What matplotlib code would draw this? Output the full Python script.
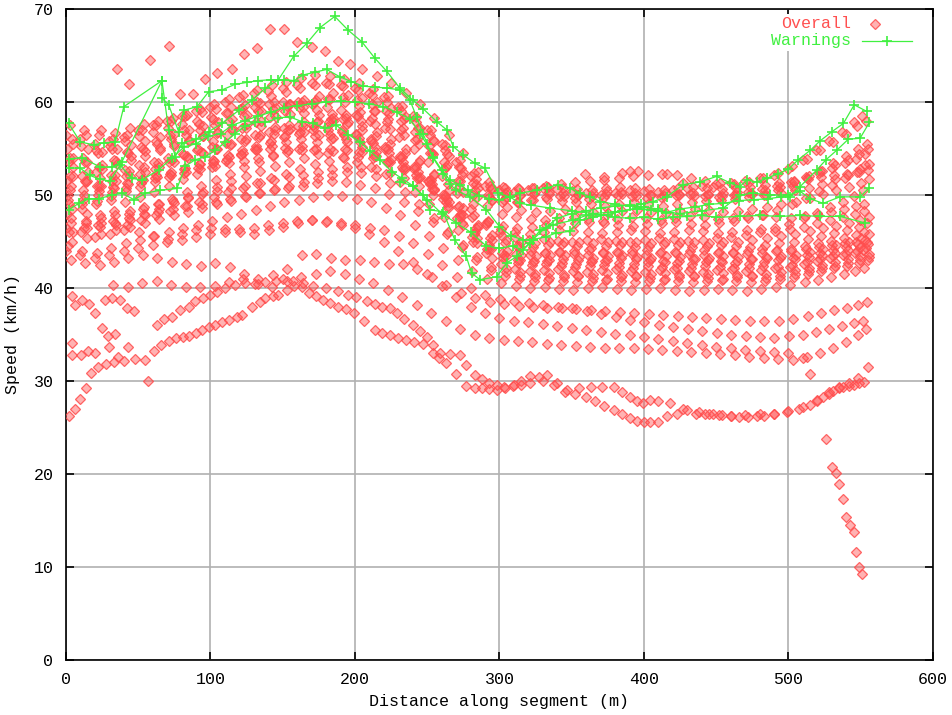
import matplotlib
matplotlib.use("Agg")
import matplotlib.pyplot as plt
from matplotlib.patches import Rectangle

plt.rcParams['font.family'] = ['Liberation Mono', 'DejaVu Sans Mono']

# ---------------------------------------------------------------- data
# Sampling positions (m) shared by the regular trips
GRID_X = [0, 10, 20, 30, 40, 50, 60, 70, 80, 90, 100, 110, 120, 130, 140, 150,
          160, 170, 180, 190, 200, 210, 220, 230, 240, 250, 260, 270, 280, 290,
          300, 310, 320, 330, 340, 350, 360, 370, 380, 390, 400, 410, 420, 430,
          440, 450, 460, 470, 480, 490, 500, 510, 519, 528, 537, 545, 551]

# Speeds (km/h) of each trip along GRID_X
A1 = [56.5, 56, 55.5, 55.8, 56.2, 57, 57.5, 58, 58.5, 59, 59.5, 60, 60.5, 61, 61.2, 61.5, 61.8, 62, 62, 61.8, 61.5, 61, 60.5, 59.5, 58.5, 57, 55.5, 53.5, 52, 51, 50.5, 50.3, 50.5, 50.8, 50.6, 50.4, 50.2, 50, 50.2, 50.5, 50.4, 50.3, 50.5, 50.8, 51, 51.2, 51.3, 51.5, 51.8, 52.2, 52.8, 53.8, 54.8, 55.8, 56.8, 57.8, 58.5]
A2 = [54, 53.5, 53, 53.8, 54.5, 55, 55.5, 56, 56.5, 57, 57.5, 58, 58.5, 59, 59.3, 59.6, 60, 60.2, 60.3, 60, 59.6, 59, 58.2, 57.2, 56, 54.5, 53, 51.5, 50.5, 49.8, 49.5, 49.3, 49.5, 49.6, 49.4, 49.2, 49, 48.8, 49, 49.2, 49, 48.8, 49, 49.2, 49.4, 49.5, 49.6, 49.8, 50, 50.5, 51, 51.8, 52.6, 53.4, 54.2, 55, 55.5]
A3 = [52, 51.5, 51, 51.5, 52, 52.5, 53, 53.5, 54, 54.5, 55, 55.5, 56, 56.5, 57, 57.5, 57.8, 58, 58, 57.6, 57, 56.3, 55.5, 54.5, 53.5, 52.3, 51.2, 50.3, 49.8, 49.5, 49.8, 50, 50.3, 50.1, 49.9, 50, 50.2, 50.4, 50.1, 49.9, 50, 50.2, 50.1, 49.9, 50, 50.2, 50.3, 50.1, 50, 50.2, 50.5, 50.8, 51.2, 51.7, 52.2, 52.8, 53.3]
A4 = [50, 50.5, 51, 51.5, 52, 52.3, 52.8, 53.5, 54.3, 55, 55.8, 56.5, 57.2, 57.8, 58.4, 59, 59.5, 60, 60.3, 60.5, 60.2, 59.8, 59, 58, 56.8, 55.3, 53.5, 51.5, 50, 48.8, 48, 47.6, 47.4, 47.3, 47.5, 47.6, 47.4, 47.2, 47.4, 47.6, 47.5, 47.3, 47.5, 47.7, 47.6, 47.4, 47.5, 47.7, 47.8, 47.6, 47.5, 47.7, 47.9, 48.2, 48.5, 48.8, 49]
A5 = [57.5, 57, 56.5, 56, 56.5, 57, 57.5, 58, 58.5, 59.2, 59.8, 60.3, 60.8, 61.3, 61.8, 62.2, 62.6, 62.9, 62.8, 62.5, 62, 61.4, 60.6, 59.6, 58.4, 57, 55.4, 53.8, 52.4, 51.4, 50.9, 50.7, 50.8, 51, 51.2, 51.4, 51.5, 51.6, 51.8, 52, 52.2, 52.3, 52.1, 51.8, 51.5, 51.3, 51.2, 51.4, 51.8, 52.4, 53.1, 53.9, 54.8, 55.7, 56.6, 57.4, 58]
A6 = [55.5, 55, 54.6, 55, 55.4, 55.8, 56.2, 56.6, 57, 57.4, 57.8, 58.2, 58.6, 59, 59.4, 59.8, 60.2, 60.6, 61, 60.8, 60.4, 60, 59.4, 58.4, 57.2, 55.8, 54.2, 52.5, 50.8, 49.5, 48.7, 48.4, 48.2, 48.3, 48.5, 48.4, 48.2, 48.1, 48.3, 48.4, 48.2, 48.1, 48.3, 48.5, 48.4, 48.2, 48.3, 48.5, 48.7, 49, 49.3, 49.7, 50.1, 50.5, 50.9, 51.3, 51.7]
A7 = [53.5, 54, 54.5, 55, 54.6, 55.2, 55.8, 56.4, 57, 57.6, 58.2, 58.8, 59.4, 60, 60.6, 61.1, 61.5, 61.8, 61.9, 61.7, 61.3, 60.8, 60, 59, 57.8, 56.4, 54.8, 53, 51.3, 50, 49.3, 49.2, 49.5, 49.8, 49.9, 49.7, 49.6, 49.8, 50, 49.9, 49.7, 49.8, 50, 50.1, 49.9, 49.8, 50, 50.3, 50.6, 51, 51.4, 51.9, 52.4, 52.9, 53.4, 53.9, 54.4]
A8 = [56, 56.5, 57, 56.7, 57.2, 57.6, 58, 58.3, 58.6, 58.9, 59.2, 59.5, 59.7, 59.9, 60, 59.8, 59.5, 59.1, 58.7, 58.3, 58, 57.6, 57.1, 56.4, 55.5, 54.4, 53.2, 52.1, 51.2, 50.6, 50.2, 50, 50.1, 50.3, 50.2, 50, 49.9, 50.1, 50.3, 50.2, 50, 49.9, 50, 50.2, 50.1, 49.9, 50, 50.2, 50.5, 50.9, 51.4, 52, 52.6, 53.2, 53.8, 54.4, 55]
A9 = [51, 51.4, 51.8, 52.2, 52.6, 53, 53.4, 53.8, 54.2, 54.6, 55, 55.4, 55.8, 56.2, 56.6, 57, 57.4, 57.8, 58.2, 58.6, 58.9, 59, 58.8, 58.2, 57.2, 55.9, 54.4, 52.9, 51.7, 51, 50.7, 50.6, 50.7, 50.9, 50.8, 50.6, 50.5, 50.7, 50.9, 50.8, 50.6, 50.5, 50.7, 50.9, 50.8, 50.6, 50.7, 50.9, 51.1, 51.3, 51.5, 51.7, 51.9, 52.1, 52.3, 52.5, 52.7]
B1 = [48, 48.5, 49, 49.5, 49.2, 49.8, 50.3, 51, 51.7, 52.3, 53, 53.7, 54.3, 55, 55.6, 56.2, 56.6, 57, 57, 56.8, 56.4, 55.8, 55, 54, 52.8, 51.5, 50, 48.7, 47.6, 46.8, 46.3, 46, 45.8, 46, 46.2, 46.1, 46, 45.9, 46, 46.2, 46.1, 45.9, 46, 46.2, 46.1, 45.9, 46, 46.2, 46.3, 46.1, 46.3, 46.6, 47, 47.3, 47.6, 48, 48.3]
B2 = [47, 47.2, 47.8, 48.3, 48, 48.5, 49, 49.6, 50.3, 51, 51.6, 52.3, 53, 53.6, 54.2, 54.8, 55.3, 55.7, 56, 56, 55.7, 55.2, 54.5, 53.6, 52.5, 51.2, 49.6, 48, 46.5, 45.4, 44.8, 44.5, 44.4, 44.6, 44.7, 44.5, 44.3, 44.5, 44.6, 44.4, 44.5, 44.7, 44.6, 44.4, 44.5, 44.6, 44.5, 44.4, 44.6, 44.8, 45, 45.3, 45.6, 45.9, 46.2, 46.6, 47]
B3 = [53, 52.5, 52.8, 53.3, 53.8, 54.2, 54.8, 55.3, 55.8, 56.3, 56.8, 57.2, 57.6, 58, 58.4, 58.7, 58.8, 58.6, 58.3, 57.9, 57.4, 56.8, 56, 55, 53.8, 52.2, 50.5, 48.6, 46.8, 45.2, 44, 43.5, 43.4, 43.6, 43.5, 43.3, 43.2, 43.4, 43.5, 43.3, 43.2, 43.4, 43.3, 43.1, 43.2, 43.4, 43.3, 43.1, 43.2, 43.4, 43.6, 43.9, 44.2, 44.6, 45, 45.4, 45.8]
B4 = [50.5, 50, 50.4, 50.9, 51.3, 51.7, 52.1, 52.5, 52.9, 53.3, 53.7, 54.1, 54.5, 54.9, 55.3, 55.7, 56, 56.3, 56.5, 56.4, 56.1, 55.6, 55, 54.1, 53, 51.6, 49.8, 47.8, 45.8, 44.2, 43.2, 42.7, 42.5, 42.6, 42.4, 42.3, 42.4, 42.5, 42.3, 42.2, 42.4, 42.3, 42.1, 42.2, 42.4, 42.3, 42.1, 42.2, 42.4, 42.3, 42.5, 42.8, 43.1, 43.4, 43.7, 44, 44.3]
B5 = [46, 46.5, 47, 46.8, 47.3, 47.9, 48.5, 49.1, 49.7, 50.3, 50.9, 51.5, 52, 52.6, 53.1, 53.6, 54, 54.4, 54.7, 54.8, 54.6, 54.2, 53.6, 52.8, 51.8, 50.5, 48.8, 46.8, 44.8, 43.2, 42.2, 41.7, 41.5, 41.6, 41.4, 41.3, 41.5, 41.6, 41.4, 41.3, 41.5, 41.6, 41.4, 41.3, 41.5, 41.6, 41.4, 41.3, 41.5, 41.7, 41.9, 42.2, 42.5, 42.8, 43.1, 43.4, 43.7]
B6 = [55, 55.3, 54.8, 55.3, 55.8, 56.3, 56.8, 57.2, 57.6, 58, 58.4, 58.8, 59.2, 59.5, 59.8, 60, 60, 59.8, 59.5, 59.1, 58.6, 58, 57.2, 56.2, 55, 53.6, 52, 50.2, 48.5, 47, 46, 45.5, 45.2, 45.3, 45.1, 45, 45.2, 45.3, 45.1, 45, 45.2, 45.4, 45.3, 45.1, 45.2, 45.4, 45.5, 45.7, 46, 46.4, 46.9, 47.5, 48.1, 48.7, 49.3, 49.9, 50.5]
B7 = [52, 51.5, 51, 50.8, 51.2, 51.6, 51.9, 52.2, 52.5, 52.8, 53.1, 53.4, 53.7, 54, 54.3, 54.6, 54.8, 55, 55, 54.9, 54.6, 54.2, 53.6, 52.8, 51.8, 50.6, 49.2, 47.6, 46, 44.6, 43.6, 43, 42.8, 42.9, 42.7, 42.6, 42.8, 42.9, 42.7, 42.6, 42.8, 42.9, 42.7, 42.6, 42.8, 42.9, 42.7, 42.6, 42.8, 43, 43.2, 43.5, 43.8, 44.1, 44.4, 44.7, 45]
B8 = [49, 49.5, 50, 50.3, 50.8, 51.3, 51.8, 52.3, 52.8, 53.3, 53.8, 54.3, 54.8, 55.3, 55.8, 56.3, 56.8, 57.3, 57.8, 58.2, 58.5, 58.3, 57.8, 57, 55.9, 54.5, 52.8, 50.9, 49, 47.2, 45.6, 44.5, 44, 43.8, 43.9, 44, 44.1, 43.9, 43.8, 44, 44.1, 43.9, 43.8, 44, 44.1, 43.9, 43.8, 44, 44.2, 44.1, 44, 44.2, 44.4, 44.6, 44.8, 45, 45.2]
B9 = [48.5, 48, 47.5, 47.9, 48.3, 48.7, 49, 49.4, 49.8, 50.1, 50.4, 50.7, 51, 51.3, 51.6, 51.9, 52.2, 52.5, 52.8, 53, 53, 52.8, 52.4, 51.8, 51, 50, 48.6, 47, 45.4, 44.2, 43.4, 43, 42.9, 43, 43.1, 43, 42.9, 43, 43.2, 43.1, 43, 42.8, 42.9, 43.1, 43, 42.8, 42.9, 43.1, 43.3, 43.2, 43.1, 43.3, 43.5, 43.8, 44.1, 44.4, 44.7]
B10 = [51.5, 52, 52.5, 52.2, 52.7, 53.2, 53.6, 54, 54.4, 54.8, 55.2, 55.6, 56, 56.4, 56.8, 57.2, 57.4, 57.5, 57.3, 57, 56.6, 56, 55.2, 54.2, 53, 51.5, 49.6, 47.5, 45.5, 43.8, 42.6, 42, 41.8, 41.9, 42, 41.8, 41.7, 41.9, 42, 41.8, 41.7, 41.9, 42, 41.8, 41.7, 41.9, 42, 41.8, 41.9, 42.1, 42.3, 42.6, 42.9, 43.2, 43.5, 43.8, 44.1]
B11 = [47.5, 47, 46.6, 47, 47.5, 48, 48.2, 48.5, 48.8, 49, 49.3, 49.6, 49.9, 50.2, 50.5, 50.8, 51, 51.3, 51.5, 51.4, 51.1, 50.7, 50.1, 49.3, 48.3, 47.1, 45.8, 44.4, 43, 41.9, 41.3, 41, 40.8, 40.9, 40.7, 40.6, 40.8, 40.9, 40.7, 40.6, 40.8, 40.9, 40.7, 40.6, 40.8, 40.9, 40.7, 40.6, 40.8, 41, 41.2, 41.5, 41.8, 42.1, 42.4, 42.7, 43]
B12 = [46, 46.4, 46.8, 47.2, 46.8, 47.3, 47.8, 48.3, 48.8, 49.3, 49.8, 50.3, 50.8, 51.3, 51.8, 52.3, 52.8, 53.3, 53.7, 54, 54.1, 54, 53.6, 53, 52.2, 51.2, 50, 48.8, 47.8, 47.1, 46.7, 46.5, 46.6, 46.8, 46.9, 47, 47.1, 47, 46.8, 46.7, 46.9, 47, 47.1, 46.9, 46.8, 47, 47.2, 47.5, 47.9, 48.4, 49, 49.7, 50.4, 51.1, 51.8, 52.5, 53.2]
B13 = [54, 53.6, 53.2, 53.7, 54.2, 54.7, 55.1, 55.5, 55.9, 56.3, 56.7, 57, 57.2, 57.4, 57.3, 57.1, 56.8, 56.5, 56.1, 55.7, 55.2, 54.6, 53.9, 53, 51.9, 50.6, 49.2, 47.8, 46.6, 45.7, 45.2, 44.9, 44.8, 44.9, 45, 44.9, 44.8, 44.9, 45, 44.9, 44.8, 44.9, 45, 44.9, 44.8, 44.9, 45, 45.2, 45.4, 45.6, 45.8, 46.1, 46.4, 46.7, 47, 47.3, 47.6]
B14 = [49.5, 49, 49.4, 49.9, 50.4, 50.9, 51.4, 51.9, 52.4, 52.9, 53.4, 53.9, 54.4, 54.8, 55, 55.1, 55, 54.8, 54.5, 54.1, 53.6, 53, 52.3, 51.4, 50.3, 49, 47.6, 46.2, 45, 44.2, 43.8, 43.7, 43.6, 43.8, 43.9, 43.7, 43.6, 43.8, 43.9, 43.7, 43.6, 43.8, 43.9, 43.7, 43.6, 43.8, 43.9, 43.7, 43.8, 44, 44.2, 44.5, 44.8, 45.1, 45.4, 45.7, 46]
B15 = [45, 45.4, 45.8, 46.2, 46.6, 47, 47.4, 47.8, 48.2, 48.6, 49, 49.4, 49.8, 50.2, 50.6, 51, 51.4, 51.8, 52.2, 52.5, 52.4, 52, 51.3, 50.3, 49, 47.5, 46, 44.6, 43.3, 42.3, 41.7, 41.3, 41.2, 41.1, 41.2, 41.3, 41.1, 41, 41.2, 41.3, 41.1, 41, 41.2, 41.3, 41.1, 41, 41.2, 41.3, 41.1, 41.3, 41.5, 41.8, 42.1, 42.4, 42.7, 43, 43.3]
C1 = [44.5, 44, 43.8, 44.3, 44.8, 45.2, 45.6, 46, 46.4, 46.8, 47.2, 47.6, 48, 48.4, 48.8, 49.2, 49.5, 49.8, 50, 49.9, 49.6, 49.2, 48.6, 47.8, 46.8, 45.6, 44.3, 43, 41.8, 41, 40.5, 40.2, 40, 40.1, 39.9, 39.8, 40, 40.1, 39.9, 39.8, 39.9, 40, 39.8, 39.7, 39.8, 39.9, 39.8, 39.7, 39.9, 40.1, 40.3, 40.6, 40.9, 41.2, 41.5, 41.8, 42.1]
C2 = [43, 42.7, 42.5, 42.8, 43.2, 43.5, 43.2, 42.8, 42.6, 42.4, 42.7, 42.3, 41.5, 41, 41.4, 42, 43.5, 43.7, 43.2, 43, 43, 42.8, 42.6, 42.6, 42, 41.2, 40.3, 39.5, 38.9, 38.5, 38.3, 38.1, 38, 37.9, 37.8, 37.7, 37.6, 37.5, 37.4, 37.3, 37.2, 37.1, 37, 36.9, 36.8, 36.7, 36.6, 36.5, 36.4, 36.5, 36.7, 37, 37.3, 37.6, 37.9, 38.2, 38.5]
C3 = [46.5, 46, 45.5, 45.8, 46.2, 46, 45.6, 45.3, 45.8, 46.2, 46.5, 46.3, 46, 45.8, 46.2, 46.6, 47, 47.3, 47.2, 47, 46.8, 46.5, 46.2, 45.6, 44.8, 43.7, 42.5, 41.2, 40, 39.2, 38.8, 38.6, 38.4, 38.2, 38, 37.8, 37.5, 37.2, 36.9, 36.6, 36.3, 36, 35.8, 35.6, 35.4, 35.2, 35, 34.8, 34.7, 34.6, 34.8, 35, 35.3, 35.6, 35.9, 36.2, 36.5]
C4 = [None, None, None, 40.3, 40.1, 40.5, 40.7, 40.3, 40.1, 40.1, 40.2, 40.6, 41, 40.4, 40.1, 40.7, 41.2, 41.5, 41.8, 41.5, 41, 40.5, 39.8, 39, 38.2, 37.3, 36.4, 35.6, 35, 34.6, 34.4, 34.3, 34.2, 34, 33.9, 33.8, 33.7, 33.6, 33.5, 33.5, 33.4, 33.3, 33.2, 33.1, 33, 32.9, 32.8, 32.6, 32.5, 32.4, 32.3, 32.6, 33, 33.6, 34.2, 34.9, 35.6]
C5 = [44, 43.5, 43.2, 43.6, 44, 44.3, 44.6, 44.9, 45.2, 45.5, 45.8, 46, 46.3, 46.5, 46.8, 47, 47.2, 47.3, 47.1, 46.8, 46.4, 45.8, 45, 44, 42.8, 41.5, 40.2, 39, 38, 37.3, 36.8, 36.5, 36.3, 36.1, 35.9, 35.7, 35.5, 35.3, 35.1, 34.9, 34.7, 34.5, 34.3, 34.1, 33.9, 33.7, 33.5, 33.3, 33.2, 33.1, 33, 32.5, None, None, None, None, None]

GRID_TRIPS = [A1, A2, A3, A4, A5, A6, A7, A8, A9, B1, B2, B3, B4, B5, B6, B7,
              B8, B9, B10, B11, B12, B13, B14, B15, C1, C2, C3, C4, C5]
# Start offset (m) of each trip's sampling along GRID_X
TRIP_SHIFT = [0, 3, 4.5, 1.5, 2.5, 5, 2, 4, 3.7, 1, 3.5, 5, 2.5, 4.5, 0.5, 3,
              1.8, 4.2, 0.8, 3.8, 2.2, 4.8, 1.4, 4.4, 1.2, 3.2, 0.3, 2.8, 0]

# Slow trips with their own sample positions: (distance m, speed km/h)
L1 = [(2, 26.2), (6, 27), (10, 28.1), (14, 29.2), (17, 30.9), (22, 31.5), (28, 31.8), (33, 32), (40, 32.2), (48, 32.4),
      (55, 32.3), (61, 33.2), (66, 33.9), (71, 34.3), (76, 34.6), (81, 34.7), (85, 34.8), (90, 35.2), (94, 35.5), (99, 35.8),
      (103, 36), (108, 36.3), (113, 36.6), (118, 36.9), (122, 37.1), (129, 38), (134, 38.5), (138, 38.9), (143, 39.1), (147, 39.3),
      (153, 39.8), (158, 40.2), (163, 40.1), (168, 39.5), (173, 39.1), (178, 38.7), (183, 38.4), (188, 38), (194, 37.7), (199, 37.3),
      (206, 36.4), (214, 35.5), (219, 35.2), (224, 34.9), (230, 34.6), (235, 34.4), (241, 34.2), (247, 34), (254, 33), (258, 32.5),
      (263, 31.9), (270, 30.7), (277, 29.5), (283, 29.3), (288, 29.2), (293, 29.1), (298, 29), (304, 29.3), (310, 29.6), (315, 30),
      (321, 30.5), (327, 30.4), (333, 30.6), (340, 29.8), (347, 29), (355, 29.2), (363, 29.4), (371, 29.4), (379, 29.4), (385, 28.8),
      (390, 28.3), (395, 27.9), (399, 27.6), (404, 28), (410, 27.8), (418, 27.6), (427, 27), (436, 26.5), (442, 26.4), (448, 26.4),
      (454, 26.3), (460, 26.2), (466, 26.1), (472, 26.1), (478, 26.2), (483, 26.2), (490, 26.4), (499, 26.7), (507, 27), (515, 27.4),
      (520, 27.8), (524, 28.3), (528, 28.6), (531, 28.9), (535, 29.2), (538, 29.4), (542, 29.5), (545, 29.6), (549, 29.8), (552, 29.9)]
L2 = [(4, 39.1), (6.5, 38.2), (11, 38.7), (15.7, 38.3), (20, 37.3), (27, 38.7), (31.8, 38.9), (37.6, 38.7), (42, 37.8), (46.8, 37.5),
      (63, 36), (67.7, 36.7), (73.5, 36.9), (79, 37.6), (85, 38), (89.5, 38.6), (95, 38.9), (99.7, 39.2), (104.3, 39.6), (110, 40),
      (117, 40.3), (124, 40.5), (131, 40.4), (138, 40.6), (145, 40.8), (150, 41), (157, 40.7), (164, 40.5), (171, 40.2), (180, 40),
      (188, 39.7), (195, 39.3), (201, 39), (208, 38.6), (214, 38.3), (219, 38), (224, 37.8), (229, 37.3), (234, 36.7), (240, 36),
      (245, 35.4), (249.5, 34.7), (254, 33.9), (259, 33), (266, 32.9), (273, 32.8), (277, 31.7), (283, 30.6), (288, 30.2), (293, 29.8),
      (298, 29.6), (303, 29.4), (309, 29.5), (315, 29.6), (321, 29.8), (330, 30), (338, 29.6), (345, 28.8), (352, 28.6), (360, 28.3),
      (366, 27.8), (372, 27.3), (379, 26.9), (385, 26.4), (390, 26), (395, 25.7), (400, 25.6), (404, 25.6), (410, 25.6), (416, 26.2),
      (423, 26.5), (430, 26.9), (438, 26.7), (445, 26.5), (452, 26.3), (460, 26.2), (470, 26.3), (480, 26.4), (490, 26.5), (500, 26.8),
      (510, 27.2), (520, 28), (528, 28.8), (535, 29.4), (542, 29.8), (548, 30.3), (555, 31.5)]
L3 = [(4, 32.8), (10.6, 32.8), (15, 33.2), (20, 33), (29.5, 33.7), (36, 32.6), (43, 33.7)]
# Fast trip above the main band
H1 = [(43.4, 61.9), (79, 60.9), (88, 60.9), (96.4, 62.5), (104.5, 63.1), (115, 63.6), (123, 65.2), (132, 65.8), (141.4, 67.9),
      (150.6, 67.9), (159.8, 66.5), (170, 65.9), (179, 65.5), (188, 64.4), (196.6, 64.1), (205, 63.5), (215, 62.8), (225, 62),
      (235, 61), (245, 59.8), (255, 58.3), (265, 56.5), (275, 54.5), (285, 52.5), (295, 50.8), (305, 50.3)]
# Trip braking to a stop near the end of the segment
FALL = [(515, 30.8), (526, 23.8), (530, 20.8), (533, 20.1), (535, 18.9), (537.5, 17.3), (539.5, 15.4), (542.6, 14.5),
        (545.5, 13.8), (546.7, 11.6), (549, 10.0), (550.6, 9.2)]
# Isolated samples
STRAY = [(35.3, 63.6), (58.4, 64.5), (71, 66), (57, 30), (4, 34.1), (25, 35.7), (34, 35.1), (29, 34.8),
         (359, 52.3), (372, 51.9), (385, 52.4), (390, 52.6), (396, 52.6), (416, 52.3), (427, 51.3), (448, 50.9)]

# Trips that raised a warning: (distance m, speed km/h)
W1 = [(1.8, 57.7), (9.9, 55.7), (19.1, 55.4), (26, 55.6), (34, 55.7), (40, 59.5), (66.4, 62.3), (66.4, 60.4), (71, 59.7),
      (78, 56.8), (81.4, 59.1), (90.7, 59.5), (98.7, 61.1), (108, 61.3), (117, 61.9), (125, 62.1), (133, 62.3), (142, 62.4),
      (151, 62.4), (158, 62.3), (164, 62.9), (172, 63.2), (180.4, 63.5), (189.6, 62.7), (197.5, 62.2), (205.6, 61.7), (214, 61.6),
      (222, 61.5), (231, 61.3), (238, 60.2), (242.6, 58.4), (247, 56.6), (254, 54.1), (260, 52.7), (265.7, 51.6), (272.6, 51.1),
      (278, 50.5), (286, 49.9), (293, 49.6), (300, 49.5), (307, 49.8), (314, 50.2), (325.7, 50.5), (333, 50.8), (340.7, 51.1),
      (348.8, 50.7), (356, 50.2), (362.5, 49.8), (369.6, 49.3), (380, 49.0), (390.3, 48.8), (398, 49.0), (406.4, 49.3),
      (415.6, 49.8), (427, 51.1), (438.8, 51.4), (450.3, 52.0), (459.5, 51.3), (466.4, 50.9), (471, 51.6), (478, 51.4),
      (485, 51.8), (493, 52.3), (500, 52.8), (506.8, 53.8), (515, 54.8), (521.7, 55.8), (530, 56.8), (538, 57.7),
      (545.5, 59.7), (554, 59.0)]
W2 = [(1.8, 53.9), (11.3, 54), (23.7, 53), (31.8, 53), (38.8, 53.6), (66.4, 62.3), (71, 57), (75.6, 54.1), (80.3, 55.6),
      (90, 56), (98.7, 56.8), (108, 57.7), (119.5, 59.1), (128.7, 60.2), (138, 61.5), (147, 62.4), (157.5, 64.9), (166.6, 66.3),
      (175.8, 68), (186, 69.2), (195.4, 67.7), (204.6, 66.5), (213.8, 64.7), (222, 63.3), (231, 61.5), (240, 60.2), (247, 59.3),
      (256.5, 57.9), (263.5, 57), (268, 55.2), (275, 54.3), (283, 53.4), (290, 52.9), (299, 50.2), (307, 49.8), (314.5, 49.1),
      (322, 48.9), (335, 48.6), (350, 48.3), (365, 48.0), (380, 48.2), (395, 48.5), (410, 48.3), (425, 48.0), (440, 48.3),
      (455, 48.6), (466.4, 50.0), (475.6, 50.2), (487, 50.0), (500, 50.0), (508, 50.4), (515, 49.6), (524, 49.1),
      (535.6, 49.8), (549.5, 49.8), (556, 50.8)]
W3 = [(1.8, 48.4), (8.8, 49.1), (16, 49.6), (22.6, 49.6), (32, 50.0), (38.8, 50.2), (47, 49.5), (55, 50.2), (65, 50.5),
      (76.8, 50.7), (82.6, 53.1), (89.5, 53.8), (96.4, 54.1), (103.3, 54.8), (110.3, 55.7), (117, 56.6), (124, 57.4), (131, 57.8),
      (138, 57.8), (147, 58.3), (155, 58.4), (163, 57.9), (171, 57.7), (179, 57.2), (187, 57.5), (195.4, 56.5), (203.5, 55.7),
      (210.4, 54.7), (217.3, 53.8), (225.4, 52.5), (232.3, 51.8), (240, 51.0), (247, 50.0), (252, 48.4), (261, 48.2), (269, 45.2),
      (277, 43.4), (280.7, 41.6), (286.5, 40.9), (298, 41.2), (305, 42.7), (312, 43.4), (321, 44.8), (328, 46.2), (337, 46.8),
      (351, 47.3), (360, 47.8), (370, 47.9), (380, 47.6), (390, 47.5), (400, 47.6), (410, 47.4), (420, 47.6), (430, 47.7),
      (440, 47.8), (450, 47.6), (466.4, 47.7), (480, 47.8), (494, 47.7), (508, 47.8), (521.7, 47.7), (535.6, 47.7), (553, 47.0)]
W4 = [(1.8, 52.9), (9.7, 52.9), (16.6, 52.1), (23.5, 51.7), (30.4, 51.5), (37.4, 53.2), (45.5, 51.8), (52.4, 51.6), (64.1, 52.7),
      (73.4, 54.0), (82, 55.2), (90, 55.5), (98, 56.3), (107, 56.6), (115, 57.5), (124, 58.0), (133, 58.5), (142, 58.9), (151, 59.4),
      (160, 59.6), (170, 59.8), (180, 60.0), (190, 60.1), (200, 60.0), (210, 59.8), (219.6, 59.5), (228.8, 58.9), (238, 58.2),
      (245, 56.6), (249.5, 55.5), (254, 54), (261, 52.3), (265.7, 51.2), (270, 50.5), (279.6, 49.8), (291, 48.4), (300, 46.6),
      (308, 45.6), (316, 45.2), (323, 45.2), (332, 45.5), (339, 45.9), (349, 46.1), (356, 47.3), (365, 47.6), (375, 47.9),
      (385, 48.3), (395, 48.6), (405, 48.4), (415, 48.1), (425, 48.5), (435, 48.7), (445, 49.0), (455, 49.1), (466, 49.4),
      (476, 49.5), (486, 49.6), (495, 49.8), (501, 49.8), (508, 50.9), (519.6, 52.7), (526, 53.8), (533.3, 54.8), (541.4, 56),
      (549.5, 56.1), (556, 57.8)]
W5 = [(231, 51.4), (240, 51.0), (250, 49.5), (260, 48.0), (270, 47.0), (280, 46.0), (291, 44.5), (300, 44.3), (309, 44.5),
      (316, 44.1), (323, 45.2), (332, 46.5), (340, 47.5), (350, 48.0), (360, 48.3), (370, 48.6), (380, 48.8), (390, 48.9),
      (400, 48.7), (410, 48.5)]
WARNING_TRIPS = [W1, W2, W3, W4, W5]

X_TICKS = [0, 100, 200, 300, 400, 500, 600]
Y_TICKS = [0, 10, 20, 30, 40, 50, 60, 70]

# ---------------------------------------------------------------- figure
RED = '#ff5050'
GREEN = '#40f040'
RED_FACE = (1.0, 0.33, 0.33, 0.45)
RED_EDGE = (1.0, 0.30, 0.30, 0.85)

fig = plt.figure(figsize=(9.53, 7.15), dpi=100)
ax = fig.add_axes([66 / 953, 55 / 715, 867 / 953, 651 / 715])
ax.set_xlim(0, 600)
ax.set_ylim(0, 70)

# collect all "Overall" samples
ov_x, ov_y = [], []
for ys, shift in zip(GRID_TRIPS, TRIP_SHIFT):
    assert len(ys) == len(GRID_X)
    for gx, v in zip(GRID_X, ys):
        if v is not None:
            ov_x.append(gx + shift)
            ov_y.append(v)
for trip in (L1, L2, L3, H1, FALL, STRAY):
    for px, v in trip:
        ov_x.append(px)
        ov_y.append(v)

ax.plot(ov_x, ov_y, ls='none', marker='D', ms=5.0,
        mfc=RED_FACE, mec=RED_EDGE, mew=0.9, zorder=3)

for trip in WARNING_TRIPS:
    ax.plot([p[0] for p in trip], [p[1] for p in trip], color=GREEN, lw=0.9,
            marker='+', ms=6.5, mew=1.2, zorder=4)

# axes, grid and ticks
ax.set_xticks(X_TICKS)
ax.set_yticks(Y_TICKS)
ax.grid(True, color='#b0b0b0', lw=1.2)
ax.set_axisbelow(True)
ax.tick_params(direction='in', length=6, width=1.2, top=True, right=True,
               labelsize=12, pad=9, colors='black')
for sp in ax.spines.values():
    sp.set_color('black')
    sp.set_linewidth(1.2)

ax.set_xlabel('Distance along segment (m)', fontsize=12, labelpad=5)
ax.set_ylabel('Speed (km/h)', fontsize=12, labelpad=10)

# key in the top right corner
ax.add_patch(Rectangle((0.805, 0.935), 0.18, 0.058, transform=ax.transAxes,
                       facecolor='white', edgecolor='none', zorder=5))
ax.text(0.9054, 0.977, 'Overall', color=RED, fontsize=12, ha='right',
        va='center', transform=ax.transAxes, zorder=6)
ax.text(0.9054, 0.951, 'Warnings', color=GREEN, fontsize=12, ha='right',
        va='center', transform=ax.transAxes, zorder=6)
ax.plot([0.9331], [0.977], ls='none', marker='D', ms=5.0,
        mfc=RED_FACE, mec=RED_EDGE, mew=0.9,
        transform=ax.transAxes, zorder=6, clip_on=False)
ax.plot([0.9181, 0.9758], [0.951, 0.951], color=GREEN, lw=0.9,
        transform=ax.transAxes, zorder=6, clip_on=False)
ax.plot([0.947], [0.951], ls='none', marker='+', ms=6.5, mew=1.2, color=GREEN,
        transform=ax.transAxes, zorder=6, clip_on=False)

fig.savefig('out.png', dpi=100)
